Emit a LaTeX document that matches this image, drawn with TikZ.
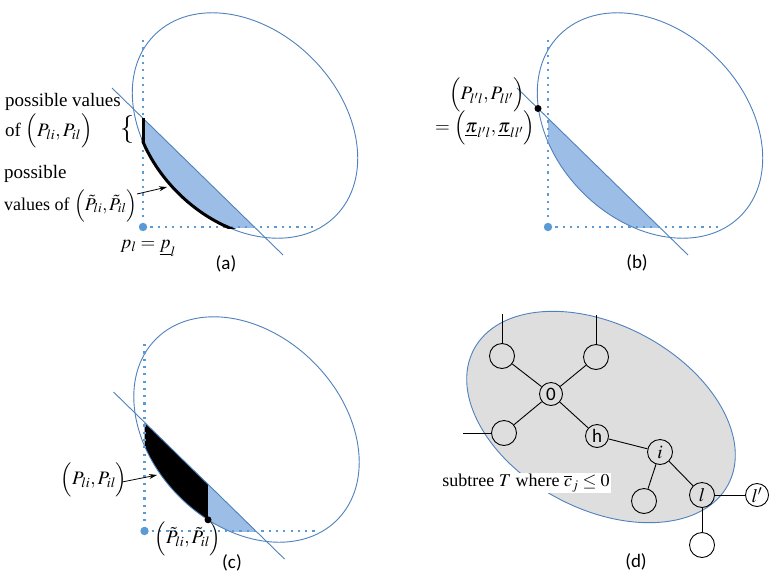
\documentclass[tikz,border=0pt]{standalone}
\usepackage{mathptmx}
\usepackage[no-math]{fontspec}
\setmainfont{Liberation Serif}
\newfontfamily\calib{Carlito}
\usetikzlibrary{arrows.meta}
\definecolor{elline}{RGB}{79,129,189}
\definecolor{elfill}{RGB}{155,189,230}
\definecolor{dotblue}{RGB}{91,155,213}
\definecolor{dgray}{RGB}{222,222,222}
\tikzset{
  ell/.style={draw=elline, line width=0.9pt},
  chord/.style={draw=elline, line width=0.9pt},
  dotline/.style={draw=dotblue, line width=2.2pt, dash pattern=on 2.2pt off 5.1pt},
  lab/.style={font=\fontsize{19}{22}\selectfont, inner sep=0pt},
  plab/.style={font=\calib\fontsize{19}{22}\selectfont, inner sep=0pt},
  arr/.style={-{Stealth[length=8pt,width=5pt]}, line width=0.8pt},
  tnode/.style={circle, draw, line width=0.9pt, minimum size=25pt, inner sep=0pt, font=\fontsize{19}{21}\selectfont},
  snode/.style={tnode, minimum size=23pt},
  tedge/.style={line width=0.9pt},
  thick black/.style={line width=3pt, black},
}
\newcommand\ellclip{\clip[shift={(245,125.5)},rotate=-45] (0,0) ellipse [x radius=128pt, y radius=95pt];}
\newcommand\geobase{%
  \draw[ell,shift={(245,125.5)},rotate=-45] (0,0) ellipse [x radius=128pt, y radius=95pt];
  \coordinate (chA) at (112,88);
  \coordinate (chB) at (283,255);
  \draw[chord] (chA) -- (chB);
  \coordinate (vtop) at (143,40);
  \coordinate (org) at (143,227);
  \coordinate (hend) at (318,227);
  \draw[dotline] (vtop) -- (org);
  \draw[dotline] (org) -- (hend);
  \fill[dotblue] (org) circle[radius=4.2pt];
}
\begin{document}
\begin{tikzpicture}[x=1pt,y=-1pt]
\fill[white] (0,0) rectangle (775,581);
\useasboundingbox (0,0) rectangle (775,581);

% ---------- (a) ----------
\begin{scope}
  \begin{scope}
    \ellclip
    \clip (143,0) rectangle (400,227);
    \fill[elfill] (112,88) -- (283,255) -- (112,255) -- cycle;
  \end{scope}
  \geobase
  \begin{scope}
    \clip (141.5,138) rectangle (260,228);
    \draw[thick black,shift={(245,125.5)},rotate=-45] (0,0) ellipse [x radius=128pt, y radius=95pt];
  \end{scope}
  \coordinate (sa) at (143,118.3);
  \coordinate (sb) at (143,143.5);
  \draw[thick black] (sa) -- (sb);
\end{scope}
\node[lab, anchor=base west] (a1) at (5,106) {possible values};
\node[lab, anchor=base west] (a2) at (5,136) {of $\Bigl(P_{li},P_{il}\Bigr)$};
\node[lab, font=\fontsize{28}{30}\selectfont] (abr) at (127,130) {$\{$};
\node[lab, anchor=base west] (a3) at (4,178) {possible};
\node[lab, anchor=base west, font=\fontsize{18}{21}\selectfont] (a4) at (4,210) {values of $\Bigl(\tilde P_{li},\tilde P_{il}\Bigr)$};
\coordinate (aarr) at (167,187);
\coordinate (aarrs) at (137,194);
\draw[arr] (aarrs) -- (aarr);
\node[lab, anchor=base] (a5) at (148,248) {$p_l=\underline{p}_l$};
\node[plab] (pa) at (226,264) {(a)};

% ---------- (b) ----------
\begin{scope}[shift={(405,0)}]
  \begin{scope}
    \ellclip
    \clip (143,0) rectangle (400,227);
    \fill[elfill] (112,88) -- (283,255) -- (112,255) -- cycle;
  \end{scope}
  \geobase
  \coordinate (bpt) at (133,108.5);
  \fill[black] (bpt) circle[radius=3.5pt];
\end{scope}
\node[lab] (b1) at (487,95) {$\Bigl(P_{l'l},P_{ll'}\Bigr)$};
\node[lab] (b2) at (485,128) {$=\Bigl(\underline{\pi}_{l'l},\underline{\pi}_{ll'}\Bigr)$};
\node[plab] (pb) at (637,263) {(b)};

% ---------- (c) ----------
\begin{scope}[shift={(1.5,304)}]
  \begin{scope}
    \ellclip
    \clip (143,0) rectangle (206.5,227);
    \fill[black] (112,88) -- (283,255) -- (112,255) -- cycle;
  \end{scope}
  \begin{scope}
    \ellclip
    \clip (206.5,0) rectangle (400,227);
    \fill[elfill] (112,88) -- (283,255) -- (112,255) -- cycle;
  \end{scope}
  \geobase
  \coordinate (cpt) at (206.5,215.8);
  \fill[black] (cpt) circle[radius=3.5pt];
  \coordinate (carr) at (155.5,171);
\end{scope}
\node[lab] (c1) at (94,480) {$\Bigl(P_{li},P_{il}\Bigr)$};
\coordinate (carrs) at (122,482);
\draw[arr] (carrs) -- (carr);
\node[lab] (c2) at (188,539) {$\Bigl(\tilde P_{li},\tilde P_{il}\Bigr)$};
\node[plab] (pc) at (232,563) {(c)};

% ---------- (d) ----------
\filldraw[fill=dgray, draw=elline, line width=0.9pt, shift={(601,417)}, rotate=-28] (0,0) ellipse [x radius=144pt, y radius=92pt];
\node[tnode] (tl) at (502,356) {};
\node[tnode] (tr) at (596,357) {};
\node[snode, font=\calib\fontsize{19}{21}\selectfont] (n0) at (551,394) {0};
\node[tnode] (bl) at (504,433) {};
\node[snode, font=\calib\fontsize{19}{21}\selectfont] (nh) at (597,436) {h};
\node[tnode] (ni) at (660,452) {$i$};
\node[tnode] (ci) at (644,501) {};
\node[tnode] (nl) at (702,495) {$l$};
\node[snode] (nlp) at (757,495) {$l'$};
\node[tnode] (cl) at (702,545) {};
\coordinate (tlup) at (502,314);
\coordinate (trup) at (596,315);
\coordinate (blleft) at (463,433);
\draw[tedge] (tl) -- (tlup);
\draw[tedge] (tr) -- (trup);
\draw[tedge] (bl) -- (blleft);
\draw[tedge] (n0) -- (tl);
\draw[tedge] (n0) -- (tr);
\draw[tedge] (n0) -- (bl);
\draw[tedge] (n0) -- (nh);
\draw[tedge] (nh) -- (ni);
\draw[tedge] (ni) -- (ci);
\draw[tedge] (ni) -- (nl);
\draw[tedge] (nl) -- (nlp);
\draw[tedge] (nl) -- (cl);
\node[lab, fill=white, inner sep=1.5pt, font=\fontsize{18}{21}\selectfont] (sub) at (526,483) {subtree $T$ where $\overline{c}_j\le 0$};
\node[plab] (pd) at (636,562) {(d)};
\end{tikzpicture}
\end{document}
